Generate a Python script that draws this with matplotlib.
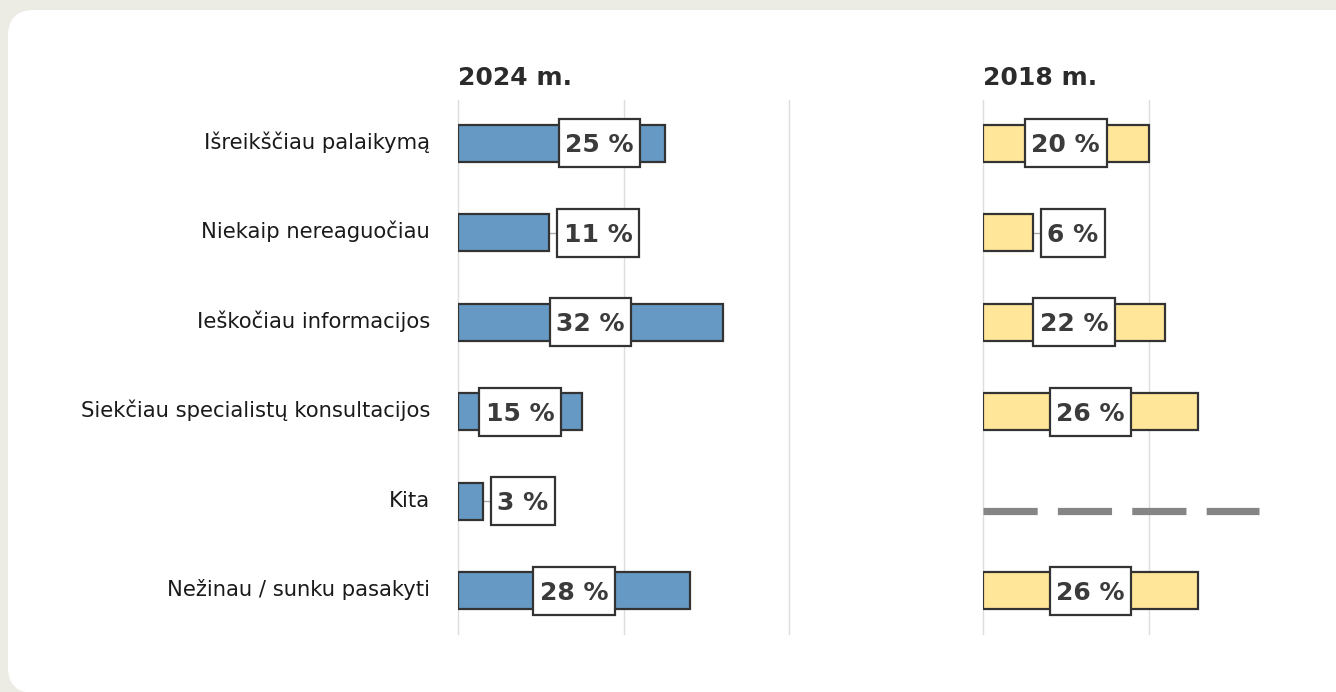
import matplotlib
matplotlib.use("Agg")
import matplotlib.pyplot as plt
import matplotlib.patches as mpatches
import numpy as np

# duomenys
categories = [
    "Išreikščiau palaikymą",
    "Niekaip nereaguočiau",
    "Ieškočiau informacijos",
    "Siekčiau specialistų konsultacijos",
    "Kita",
    "Nežinau / sunku pasakyti",
]
values_2024 = [25, 11, 32, 15, 3, 28]
values_2018 = [20, 6, 22, 26, None, 26]
titles = ["2024 m.", "2018 m."]

W, H = 1336, 692
BG = "#ecebe4"
BLUE = "#6699c4"
YELLOW = "#ffe699"
EDGE = "#333333"
TXT = "#3b3b3b"
PX = 72 / 100  # taškai viename pikselyje

fig = plt.figure(figsize=(W / 100, H / 100), dpi=100, facecolor=BG)

# baltas fonas su apvaliais kampais
bg_ax = fig.add_axes([0, 0, 1, 1])
bg_ax.set_xlim(0, W)
bg_ax.set_ylim(H, 0)
bg_ax.axis("off")
bg_ax.add_patch(mpatches.FancyBboxPatch(
    (8, 10), W + 40, H - 10 + 1,
    boxstyle="round,pad=0,rounding_size=26",
    facecolor="white", edgecolor="none"))

y_top, y_bot = 100, 634
ax_h = (y_bot - y_top) / H
ax_b = 1 - y_bot / H
lefts = [458, 983]
ax_w = 331 / W

label_nudge = {(0, 0): 4.6}
labels = []  # (ax, text, row)
FS = 18
base_off = -0.36 * FS  # skaitmenų centras ties eilutės centru


def draw_panel(ax, vals, color, title, pidx, grid):
    ax.set_xlim(0, 40)
    ax.set_ylim(len(categories) - 0.515, -0.485)
    ax.axis("off")
    for g in grid:
        ax.axvline(g, color="#dddddd", lw=1, zorder=0, clip_on=False)
    for i, v in enumerate(vals):
        if v is None:
            ax.plot([0, 33.3], [i + 0.115, i + 0.115], color="#858585",
                    lw=5.2, dashes=(7.5, 2.8), solid_capstyle="butt",
                    dash_capstyle="butt", zorder=2)
            continue
        ax.barh(i, v, height=0.41, color=color, edgecolor=EDGE,
                linewidth=1.6, zorder=2)
        lab = f"{v} %"
        if v >= 12:
            cx = v / 2 + label_nudge.get((pidx, i), 0)
            t = ax.annotate(lab, (cx, i), xytext=(0, base_off),
                            textcoords="offset points", ha="center",
                            va="baseline", fontsize=FS, fontweight="bold",
                            color=TXT, zorder=5)
        else:
            ax.plot([v, v + 1.0], [i, i], color="#aaaaaa", lw=1, zorder=1)
            t = ax.annotate(lab, (v, i), xytext=(14.5 * PX, base_off),
                            textcoords="offset points", ha="left",
                            va="baseline", fontsize=FS, fontweight="bold",
                            color=TXT, zorder=5)
        labels.append((ax, t, i))
    ax.annotate(title, (0, 0), xytext=(0, 58 * PX),
                textcoords="offset points", ha="left", va="baseline",
                fontsize=18, fontweight="bold", color="#2b2b2b",
                annotation_clip=False)


ax1 = fig.add_axes([lefts[0] / W, ax_b, ax_w, ax_h])
ax2 = fig.add_axes([lefts[1] / W, ax_b, ax_w, ax_h])
draw_panel(ax1, values_2024, BLUE, titles[0], 0, [0, 20, 40])
draw_panel(ax2, values_2018, YELLOW, titles[1], 1, [0, 20])

for i, c in enumerate(categories):
    ax1.annotate(c, (0, i), xytext=(-28 * PX, -5.5 * PX),
                 textcoords="offset points", ha="right", va="baseline",
                 fontsize=15.2, color="#1a1a1a")

# baltos etikečių dėžutės aplink tekstą
fig.canvas.draw()
renderer = fig.canvas.get_renderer()
for ax, t, i in labels:
    bb = t.get_window_extent(renderer)
    yc = ax.transData.transform((0, i))[1]
    inv = ax.transData.inverted()
    (x0, y0) = inv.transform((bb.x0 - 6.5, yc - 24))
    (x1, y1) = inv.transform((bb.x1 + 6.5, yc + 24))
    ax.add_patch(mpatches.Rectangle((x0, y0), x1 - x0, y1 - y0,
                                    facecolor="white", edgecolor=EDGE,
                                    linewidth=1.6, zorder=4, clip_on=False))

fig.savefig("out.png", dpi=100, facecolor=BG)
